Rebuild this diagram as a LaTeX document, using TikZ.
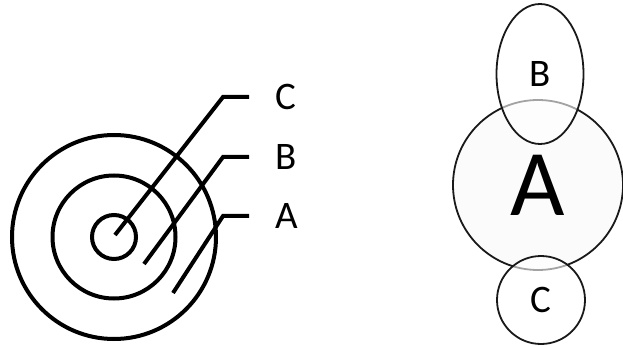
\documentclass[tikz,border=0pt]{standalone}
\usepackage{fontspec}
\setmainfont{Carlito}
\usetikzlibrary{shapes.geometric}
\tikzset{
  ring/.style={draw, circle, line width=4pt, inner sep=0pt},
  leader/.style={line width=4pt},
  tag/.style={anchor=west, inner xsep=26pt, inner ysep=0pt, font=\fontsize{39}{42}\selectfont},
  bubble/.style={draw=black!90, line width=1.8pt, inner sep=0pt, fill=white, fill opacity=0.6, text opacity=1, font=\fontsize{39}{42}\selectfont}
}
\begin{document}
\begin{tikzpicture}[x=1pt,y=-1pt]
\useasboundingbox (0,0) rectangle (623,347);
% target rings
\node[ring, minimum size=204pt] (outer) at (114,237) {};
\node[ring, minimum size=123pt] (middle) at (114,237) {};
\node[ring, minimum size=44pt] (inner) at (114,237) {};
\node[tag] (lblC) at (249,97) {C};
\node[tag] (lblB) at (249,157) {B};
\node[tag] (lblA) at (249,216) {A};
\coordinate (endC) at (115,235);
\coordinate (endB) at (144,264);
\coordinate (endA) at (173,293);
\coordinate (kneeC) at (223,97);
\coordinate (kneeB) at (223,157);
\coordinate (kneeA) at (223,216);
\draw[leader] (endC) -- (kneeC) -- (lblC.west);
\draw[leader] (endB) -- (kneeB) -- (lblB.west);
\draw[leader] (endA) -- (kneeA) -- (lblA.west);
% bubbles
\node[bubble, circle, minimum size=170pt, fill=gray!3, fill opacity=1, font=\fontsize{94}{94}\selectfont] (bigA) at (538,185) {A};
\node[bubble, ellipse, minimum width=87pt, minimum height=140pt] (topB) at (540,74) {B};
\node[bubble, circle, minimum size=88pt] (botC) at (541,300) {C};
\end{tikzpicture}
\end{document}
